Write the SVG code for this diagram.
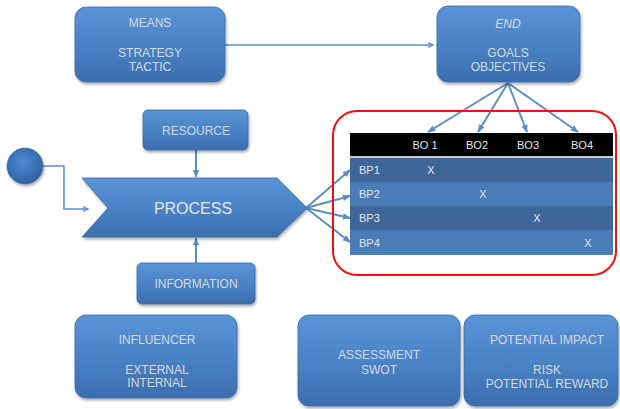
<svg xmlns="http://www.w3.org/2000/svg" width="620" height="409" viewBox="0 0 620 409">
  <defs>
    <linearGradient id="boxFill" x1="0" y1="0" x2="0" y2="1">
      <stop offset="0" stop-color="#5a93d6"/>
      <stop offset="0.5" stop-color="#4a83c6"/>
      <stop offset="1" stop-color="#3b6eae"/>
    </linearGradient>
    <radialGradient id="dotFill" cx="0.45" cy="0.4" r="0.6">
      <stop offset="0" stop-color="#4f8ad0"/>
      <stop offset="1" stop-color="#2f62a4"/>
    </radialGradient>
    <filter id="shadow" x="-10%" y="-10%" width="125%" height="130%">
      <feGaussianBlur in="SourceAlpha" stdDeviation="1.5"/>
      <feOffset dx="1" dy="2" result="b"/>
      <feComponentTransfer><feFuncA type="linear" slope="0.35"/></feComponentTransfer>
      <feMerge><feMergeNode/><feMergeNode in="SourceGraphic"/></feMerge>
    </filter>
    <marker id="arrow" viewBox="0 0 10 10" refX="9" refY="5" markerWidth="4" markerHeight="4" orient="auto">
      <path d="M1,1 L9,5 L1,9" fill="none" stroke="#5b8cc8" stroke-width="2"/>
    </marker>
    <marker id="arrowHead" viewBox="0 0 10 10" refX="9" refY="5" markerWidth="4" markerHeight="4" orient="auto">
      <path d="M0,1 L10,5 L0,9 Z" fill="#5b8cc8"/>
    </marker>
  </defs>
  <style>
    .box { fill: url(#boxFill); stroke: #3a6aa8; stroke-width: 0.8; filter: url(#shadow); }
    .lbl { font-family: "Liberation Sans", Arial, sans-serif; font-size: 12px; fill: #d6d9de; text-anchor: middle; dominant-baseline: central; }
    .big { font-size: 16px; fill: #e2e6ec; }
    .cell { font-family: "Liberation Sans", Arial, sans-serif; font-size: 11px; fill: #e4e7ec; dominant-baseline: central; }
    .mid { text-anchor: middle; }
    .conn { fill: none; stroke: #5b8cc8; stroke-width: 2; }
    .thin { stroke-width: 1.5; }
  </style>

  <!-- connectors -->
  <g id="connectors">
    <path class="conn thin" d="M225,45 H433" marker-end="url(#arrow)"/>
    <path class="conn" d="M508,83 L428,132" marker-end="url(#arrowHead)"/>
    <path class="conn" d="M508,83 L478,132" marker-end="url(#arrowHead)"/>
    <path class="conn" d="M508,83 L527,132" marker-end="url(#arrowHead)"/>
    <path class="conn" d="M508,83 L578,132" marker-end="url(#arrowHead)"/>
    <path class="conn thin" d="M43,166 H64 V209 H88" marker-end="url(#arrow)"/>
    <path class="conn" d="M196,150 V177" marker-end="url(#arrowHead)"/>
    <path class="conn" d="M196,263 V238" marker-end="url(#arrowHead)"/>
    <path class="conn" d="M306,208 L350,170" marker-end="url(#arrowHead)"/>
    <path class="conn" d="M306,208 L350,196" marker-end="url(#arrowHead)"/>
    <path class="conn" d="M306,208 L350,218" marker-end="url(#arrowHead)"/>
    <path class="conn" d="M306,208 L350,242" marker-end="url(#arrowHead)"/>
  </g>

  <g id="means">
    <rect class="box" x="75" y="7" width="150" height="75" rx="11"/>
    <text class="lbl" x="150" y="23">MEANS</text>
    <text class="lbl" x="150" y="53">STRATEGY</text>
    <text class="lbl" x="150" y="67">TACTIC</text>
  </g>

  <g id="end">
    <rect class="box" x="437" y="6" width="143" height="76" rx="11"/>
    <text class="lbl" x="508" y="24" font-style="italic">END</text>
    <text class="lbl" x="508" y="53">GOALS</text>
    <text class="lbl" x="508" y="67">OBJECTIVES</text>
  </g>

  <g id="start">
    <circle cx="25" cy="166" r="18" fill="url(#dotFill)" stroke="#3a6aa8" stroke-width="0.8" stroke-dasharray="2 1" filter="url(#shadow)"/>
  </g>

  <g id="resource">
    <rect class="box" x="143" y="110" width="105" height="40" rx="5"/>
    <text class="lbl" x="196" y="131">RESOURCE</text>
  </g>

  <g id="process">
    <polygon class="box" points="82,178 277,178 307,208 277,237 82,237 108,208"/>
    <text class="lbl big" x="193" y="208">PROCESS</text>
  </g>

  <g id="information">
    <rect class="box" x="137" y="263" width="118" height="41" rx="5"/>
    <text class="lbl" x="196" y="284">INFORMATION</text>
  </g>

  <g id="matrix">
    <rect x="350" y="133" width="263" height="23" fill="#000"/>
    <rect x="350" y="156" width="263" height="2" fill="#c8ccd2"/>
    <rect x="350" y="158" width="263" height="24" fill="#3e6698"/>
    <rect x="350" y="182" width="263" height="24" fill="#4a7cb8"/>
    <rect x="350" y="206" width="263" height="24" fill="#3e6698"/>
    <rect x="350" y="230" width="263" height="25" fill="#4a7cb8"/>
    <text class="cell mid" x="425" y="145">BO 1</text>
    <text class="cell mid" x="477" y="145">BO2</text>
    <text class="cell mid" x="528" y="145">BO3</text>
    <text class="cell mid" x="582" y="145">BO4</text>
    <text class="cell" x="359" y="170">BP1</text>
    <text class="cell" x="359" y="194">BP2</text>
    <text class="cell" x="359" y="218">BP3</text>
    <text class="cell" x="359" y="243">BP4</text>
    <text class="cell mid" x="431" y="170">X</text>
    <text class="cell mid" x="483" y="194">X</text>
    <text class="cell mid" x="537" y="218">X</text>
    <text class="cell mid" x="588" y="243">X</text>
    <rect x="333" y="111" width="283" height="164" rx="24" fill="none" stroke="#ee1111" stroke-width="2"/>
  </g>

  <g id="influencer">
    <rect class="box" x="75" y="315" width="162" height="83" rx="11"/>
    <text class="lbl" x="157" y="340">INFLUENCER</text>
    <text class="lbl" x="157" y="370">EXTERNAL</text>
    <text class="lbl" x="157" y="383">INTERNAL</text>
  </g>

  <g id="assessment">
    <rect class="box" x="298" y="315" width="162" height="91" rx="11"/>
    <text class="lbl" x="379" y="355">ASSESSMENT</text>
    <text class="lbl" x="379" y="370">SWOT</text>
  </g>

  <g id="impact">
    <rect class="box" x="464" y="315" width="154" height="91" rx="11"/>
    <text class="lbl" x="547" y="340">POTENTIAL IMPACT</text>
    <text class="lbl" x="547" y="370">RISK</text>
    <text class="lbl" x="547" y="384">POTENTIAL REWARD</text>
  </g>
</svg>
